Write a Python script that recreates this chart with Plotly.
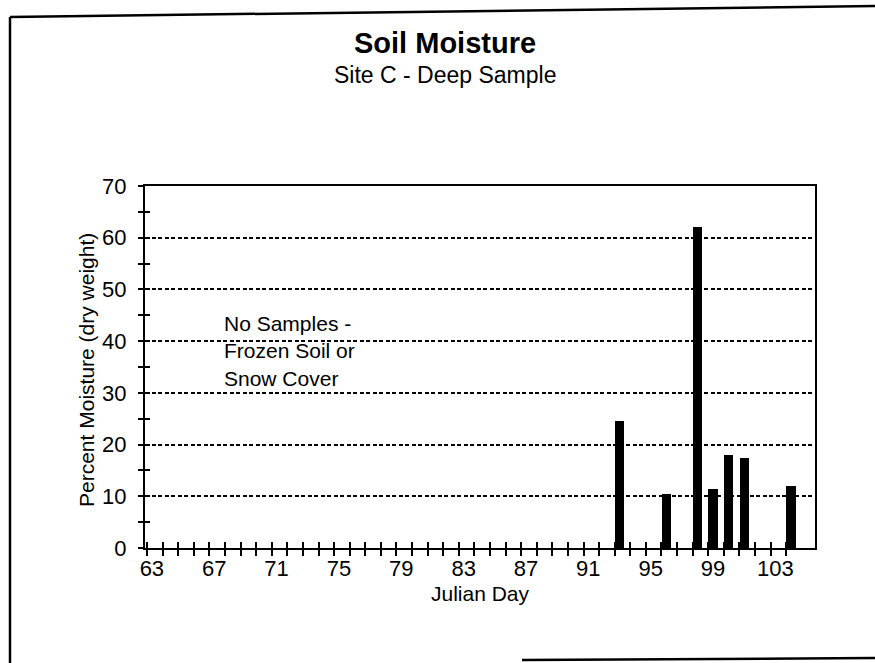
import plotly.graph_objects as go

# Soil moisture samples, deep sample at Site C
days = [93, 96, 98, 99, 100, 101, 104]
moisture = [24.6, 10.5, 62.0, 11.5, 18.0, 17.4, 12.0]

# Axis labelling
x_label_days = list(range(63, 104, 4))
y_label_vals = list(range(0, 71, 10))
x_minor_ticks = [d - 0.31 for d in range(63, 105)]
y_minor_ticks = list(range(0, 71, 5))

W, H = 875, 663
ML, MR, MT, MB = 145, 60, 186, 115
PW, PH = W - ML - MR, H - MT - MB
FONT = "Arial, Liberation Sans, sans-serif"


def px(x):
    return (x - ML) / PW


def py(y):
    return (H - MB - y) / PH


fig = go.Figure()
fig.add_trace(go.Bar(x=days, y=moisture, width=0.6,
                     marker=dict(color="black", line=dict(width=0)),
                     showlegend=False))
# empty trace so the overlay axes (inward tick halves) get drawn
fig.add_trace(go.Scatter(x=[], y=[], xaxis="x2", yaxis="y2",
                         showlegend=False, hoverinfo="skip"))

xr = [62.56, 105.54]
yr = [0, 70]
TICKFONT = dict(size=22)

fig.update_layout(
    width=W, height=H,
    margin=dict(l=ML, r=MR, t=MT, b=MB, pad=0),
    paper_bgcolor="white", plot_bgcolor="white",
    font=dict(family=FONT, color="black", size=22),
    bargap=0,
    xaxis=dict(range=xr, showline=True, linecolor="black", linewidth=2,
               mirror=True, showgrid=False, zeroline=False,
               tickmode="array", tickvals=x_label_days,
               ticktext=[str(d) for d in x_label_days],
               ticks="", tickfont=TICKFONT, ticklabelstandoff=0,
               minor=dict(tickmode="array", tickvals=x_minor_ticks,
                          ticks="outside", ticklen=6, tickwidth=1.5,
                          tickcolor="black", showgrid=False)),
    yaxis=dict(range=yr, showline=True, linecolor="black", linewidth=2,
               mirror=True, zeroline=False,
               showgrid=True, gridcolor="black", gridwidth=1.5,
               griddash="4px,2.5px",
               tickmode="array", tickvals=y_label_vals,
               ticktext=[str(v) for v in y_label_vals],
               ticks="outside", ticklen=5, tickwidth=1.5, tickcolor="black",
               minor=dict(tickmode="array", tickvals=y_minor_ticks,
                          ticks="outside", ticklen=5, tickwidth=1.5,
                          tickcolor="black", showgrid=False),
               tickfont=TICKFONT, ticklabelstandoff=7),
    xaxis2=dict(range=xr, overlaying="x", side="bottom", anchor="y2",
                showline=False, showgrid=False, zeroline=False,
                tickmode="array", tickvals=x_minor_ticks,
                ticks="inside", ticklen=6, tickwidth=1.5, tickcolor="black",
                showticklabels=False),
    yaxis2=dict(range=yr, overlaying="y", side="left", anchor="x2",
                showline=False, showgrid=False, zeroline=False,
                tickmode="array", tickvals=y_minor_ticks,
                ticks="inside", ticklen=5, tickwidth=1.5, tickcolor="black",
                showticklabels=False),
)

annotations = [
    dict(text="<b>Soil Moisture</b>", x=px(445), y=py(43), font=dict(size=29)),
    dict(text="Site C - Deep Sample", x=px(445), y=py(75), font=dict(size=23)),
    dict(text="Julian Day", x=px(480), y=py(593), font=dict(size=21)),
    dict(text="Percent Moisture (dry weight)", x=px(86), y=py(370),
         textangle=-90, font=dict(size=21)),
    dict(text="No Samples -<br>Frozen Soil or<br>Snow Cover",
         x=px(222), y=py(351), xanchor="left", align="left",
         font=dict(size=21)),
]
for a in annotations:
    a.setdefault("xanchor", "center")
    fig.add_annotation(xref="paper", yref="paper", yanchor="middle",
                       showarrow=False, **a)

# page border
border = [((10, 17), (875, 6)), ((10, 17), (10, 663)), ((522, 660), (875, 658))]
for (x0, y0), (x1, y1) in border:
    fig.add_shape(type="line", xref="paper", yref="paper",
                  x0=px(x0), y0=py(y0), x1=px(x1), y1=py(y1),
                  line=dict(color="black", width=2.5))

fig.write_html("out.html")
